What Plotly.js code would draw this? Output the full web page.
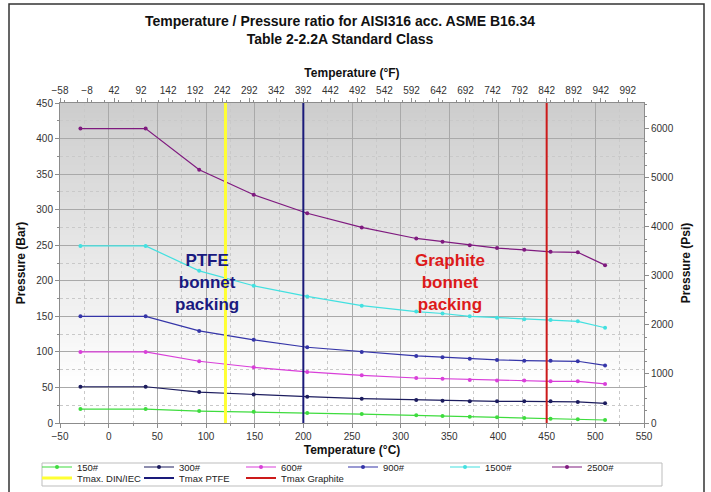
<!DOCTYPE html>
<html><head><meta charset="utf-8">
<script src="https://cdn.plot.ly/plotly-3.0.1.min.js"></script>
<style>html,body{margin:0;padding:0;background:#fff}#chart{width:711px;height:492px}</style>
</head><body><div id="chart"></div>
<script>
// ---- data ----
const tempC = [-29, 38, 93, 149, 204, 260, 316, 343, 371, 399, 427, 454, 482, 510];
const class150  = [19.6, 19.6, 16.8, 15.8, 14.0, 12.6, 10.8, 9.9, 8.9, 8.0, 7.0, 6.0, 5.2, 4.2];
const class300  = [51.0, 51.0, 43.5, 40.0, 37.0, 34.2, 32.4, 31.4, 30.5, 30.5, 30.5, 30.5, 29.6, 27.7];
const class600  = [100, 100, 86.8, 78.4, 71.8, 67.0, 63.3, 62.4, 60.5, 59.6, 59.6, 58.6, 58.6, 54.9];
const class900  = [150, 150, 129.5, 117, 106.5, 100, 94.3, 92.5, 90.5, 88.7, 87.7, 87.7, 86.8, 81];
const class1500 = [249, 249, 214, 193, 178, 165, 156.7, 154, 150, 148, 146, 145, 143, 134];
const class2500 = [414, 414, 356, 321, 295, 275, 259.5, 255, 250, 246, 243.5, 240.7, 240, 222];
const classNames = ['150#', '300#', '600#', '900#', '1500#', '2500#'];
const classSeries = [class150, class300, class600, class900, class1500, class2500];
const classColors = ['#3edc3e', '#1c1c5e', '#d93fd9', '#3535a8', '#42e0e0', '#7f1a7f'];

const tmaxNames = ['Tmax. DIN/IEC', 'Tmax PTFE', 'Tmax Graphite'];
const tmaxTemps = [120, 200, 450];
const tmaxColors = ['#ffff33', '#1a1a7a', '#cc1a1a'];
const tmaxWidths = [3, 2, 2];

const barRange = [0, 450];
const cRange = [-50, 550];
const BAR_TO_PSI = 14.5038;
const fRange = cRange.map(c => c * 9 / 5 + 32);
const psiRange = barRange.map(b => b * BAR_TO_PSI);

// ---- layout helpers ----
const W = 711, H = 492;
const M = {l: 60, r: 67, t: 103, b: 69, autoexpand: false};
const PW = W - M.l - M.r, PH = H - M.t - M.b;
const xp = px => (px - M.l) / PW;
const yp = py => (H - M.b - py) / PH;
const FONT = 'Liberation Sans, Arial, sans-serif';
const tmaxLegendIds = ['legend2', 'legend3', 'legend4'];

const traces = [];
classNames.forEach((n, i) => {
  traces.push({
    type: 'scatter', mode: 'lines+markers', name: n, x: tempC, y: classSeries[i],
    line: {color: classColors[i], width: 1.2}, marker: {color: classColors[i], size: 4},
    legend: 'legend'
  });
});
tmaxNames.forEach((n, i) => {
  traces.push({
    type: 'scatter', mode: 'lines', name: n, x: [tmaxTemps[i], tmaxTemps[i]], y: barRange,
    line: {color: tmaxColors[i], width: tmaxWidths[i]}, legend: tmaxLegendIds[i]
  });
});
// dummy trace to create the secondary (°F / psi) axes
traces.push({type: 'scatter', mode: 'markers', x: [null], y: [null], xaxis: 'x2', yaxis: 'y2',
  showlegend: false, hoverinfo: 'skip'});

// background gradient bands
const shapes = [];
const nb = 60, gTop = 1.0, gBot = 0.12;
for (let i = 0; i < nb; i++) {
  const a = gBot + (gTop - gBot) * i / nb;
  const b = gBot + (gTop - gBot) * (i + 1) / nb;
  const t = (i + 0.5) / nb; // 0 bottom -> 1 top
  const v = Math.round(255 - 50 * t);
  shapes.push({type: 'rect', xref: 'x domain', yref: 'y domain', x0: 0, x1: 1, y0: a - 0.002, y1: b + 0.002,
    fillcolor: `rgb(${v},${v},${v})`, line: {width: 0}, layer: 'below'});
}
// legend frame
shapes.push({type: 'rect', xref: 'paper', yref: 'paper', x0: xp(42), x1: xp(662), y0: yp(486), y1: yp(463),
  line: {color: '#bdbdbd', width: 1}, fillcolor: 'rgba(0,0,0,0)'});
// outer frame
shapes.push({type: 'rect', xref: 'paper', yref: 'paper', x0: xp(9), x1: xp(704), y0: yp(500), y1: yp(4),
  line: {color: '#333', width: 1.5}, fillcolor: 'rgba(0,0,0,0)'});

const tickFont = {family: FONT, size: 10, color: '#333'};
const titleFont = {family: FONT, size: 12, color: '#111', weight: 'bold'};
const axBase = {
  showline: true, linecolor: '#8c8c8c', linewidth: 1, ticks: 'outside', ticklen: 4, tickcolor: '#8c8c8c',
  zeroline: false, tickfont: tickFont, fixedrange: true
};
const legBase = {orientation: 'h', xanchor: 'left', yanchor: 'bottom',
  bgcolor: 'rgba(0,0,0,0)', borderwidth: 0, font: {family: FONT, size: 9.5, color: '#222'},
  traceorder: 'normal', itemwidth: 30};

const layout = {
  width: W, height: H, margin: M, paper_bgcolor: '#fff', plot_bgcolor: '#fff',
  font: {family: FONT},
  title: {text: 'Temperature / Pressure ratio for AISI316 acc. ASME B16.34<br>Table 2-2.2A Standard Class',
    xref: 'container', x: 340 / W, xanchor: 'center', yref: 'container', y: 1 - 26 / H, yanchor: 'top',
    font: {family: FONT, size: 14, color: '#111', weight: 'bold'}},
  xaxis: Object.assign({}, axBase, {range: cRange, tick0: 0, dtick: 50,
    showgrid: true, gridcolor: '#a9a9a9', gridwidth: 1,
    minor: {dtick: 25, showgrid: true, gridcolor: '#c9c9c9', griddash: 'dot', ticks: 'outside', ticklen: 2, tickcolor: '#8c8c8c'},
    title: {text: 'Temperature (°C)', font: titleFont, standoff: 4}}),
  yaxis: Object.assign({}, axBase, {range: barRange, dtick: 50,
    showgrid: true, gridcolor: '#a9a9a9', gridwidth: 1,
    minor: {dtick: 25, showgrid: true, gridcolor: '#c9c9c9', griddash: 'dot', ticks: 'outside', ticklen: 2, tickcolor: '#8c8c8c'},
    title: {text: 'Pressure (Bar)', font: titleFont, standoff: 8}}),
  xaxis2: Object.assign({}, axBase, {overlaying: 'x', side: 'top', anchor: 'y2', range: fRange, tick0: -58, dtick: 50,
    showgrid: false, minor: {dtick: 25, ticks: 'outside', ticklen: 2, tickcolor: '#8c8c8c'},
    title: {text: 'Temperature (°F)', font: titleFont, standoff: 4}}),
  yaxis2: Object.assign({}, axBase, {overlaying: 'y', side: 'right', anchor: 'x2', range: psiRange, dtick: 1000,
    showgrid: false, minor: {dtick: 250, ticks: 'outside', ticklen: 2, tickcolor: '#8c8c8c'},
    title: {text: 'Pressure (Psi)', font: titleFont, standoff: 8}}),
  legend: Object.assign({}, legBase, {x: xp(37), y: yp(481.5), entrywidth: 57, entrywidthmode: 'pixels'}),
  legend2: Object.assign({}, legBase, {x: xp(37), y: yp(492.5)}),
  legend3: Object.assign({}, legBase, {x: xp(139), y: yp(492.5)}),
  legend4: Object.assign({}, legBase, {x: xp(241), y: yp(492.5)}),
  shapes: shapes,
  annotations: [
    {xref: 'x', yref: 'y', x: 101, y: 198, showarrow: false, align: 'center',
     text: 'PTFE<br>bonnet<br>packing', font: {family: FONT, size: 17, color: '#1a1a80', weight: 'bold'}},
    {xref: 'x', yref: 'y', x: 351, y: 198, showarrow: false, align: 'center',
     text: 'Graphite<br>bonnet<br>packing', font: {family: FONT, size: 17, color: '#dd1a1a', weight: 'bold'}}
  ],
  showlegend: true
};

Plotly.newPlot('chart', traces, layout, {displayModeBar: false, staticPlot: true});
</script></body></html>
